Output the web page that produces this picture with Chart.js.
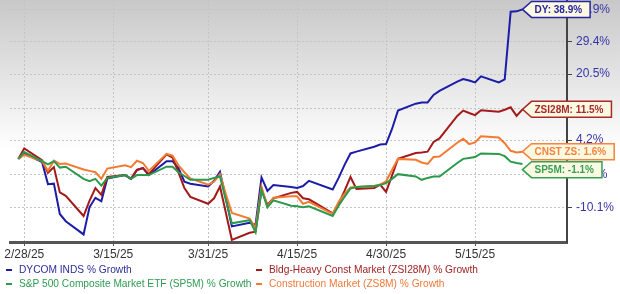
<!DOCTYPE html>
<html>
<head>
<meta charset="utf-8">
<script src="https://cdn.jsdelivr.net/npm/chart.js@4.4.1/dist/chart.umd.min.js"></script>
<style>
html,body{margin:0;padding:0;}
body{width:620px;height:294px;overflow:hidden;position:relative;
  background:linear-gradient(to bottom,#c8c8c8 0px,#ffffff 150px,#ffffff 294px);
  font-family:"Liberation Sans",Arial,sans-serif;}
#c{position:absolute;left:0;top:0;}
.lg{position:absolute;font-size:10.2px;line-height:13px;white-space:nowrap;}
.lg i{position:absolute;left:-13px;top:6px;width:6px;height:2px;}
</style>
</head>
<body>
<canvas id="c" width="620" height="294"></canvas>
<div id="legend"></div>
<script>
// ---- data ----
const dates = ['2025-02-27','2025-02-28','2025-03-03','2025-03-04','2025-03-05','2025-03-06','2025-03-07','2025-03-10','2025-03-11','2025-03-12','2025-03-13','2025-03-14','2025-03-17','2025-03-18','2025-03-19','2025-03-20','2025-03-21','2025-03-24','2025-03-25','2025-03-26','2025-03-27','2025-03-28','2025-03-31','2025-04-01','2025-04-02','2025-04-03','2025-04-04','2025-04-07','2025-04-08','2025-04-09','2025-04-10','2025-04-11','2025-04-14','2025-04-15','2025-04-16','2025-04-17','2025-04-21','2025-04-22','2025-04-23','2025-04-24','2025-04-25','2025-04-28','2025-04-29','2025-04-30','2025-05-01','2025-05-02','2025-05-05','2025-05-06','2025-05-07','2025-05-08','2025-05-09','2025-05-12','2025-05-13','2025-05-14','2025-05-15','2025-05-16','2025-05-19','2025-05-20','2025-05-21','2025-05-22','2025-05-23'];

const dyGrowth = [0,1.2,-0.7,-5.4,-5.3,-11.4,-12.8,-15.3,-10.1,-8.2,-8.9,-4.2,-3.5,-4.3,-2.4,-2.0,-3.5,-0.5,-0.5,-2.0,-4.9,-5.3,-5.9,-4.7,-2.8,-8.4,-13.8,-13.1,-13.5,-4.0,-6.8,-5.6,-6.0,-6.2,-5.8,-4.7,-6.5,-4.1,-1.3,1.2,1.6,2.7,3.2,3.3,6.8,11.2,12.9,13.2,13.2,15.1,16.1,18.5,19.2,18.8,18.3,19.9,18.3,19.1,38.2,38.3,38.9];

const zsi28mGrowth = [0,2.3,-0.3,-3.0,-1.8,-7.1,-7.8,-11.8,-8.8,-6.2,-7.6,-3.9,-3.5,-4.3,-2.4,-2.0,-3.3,1.0,0.3,-2.9,-6.2,-8.0,-9.4,-8.3,-5.9,-11.2,-16.3,-15.0,-14.8,-6.6,-9.6,-8.3,-7.2,-7.0,-8.3,-8.5,-11.3,-9.4,-6.8,-3.9,-6.4,-6.2,-5.5,-7.0,-3.6,0.0,1.3,1.4,1.6,3.8,4.6,9.9,11.2,10.6,10.1,11.3,10.9,11.4,12.0,9.9,11.5];

const sp5mGrowth = [0,1.5,-0.5,-1.2,-0.5,-1.9,-1.7,-4.3,-4.8,-4.3,-5.7,-4.1,-3.5,-4.3,-3.5,-3.5,-3.5,-1.7,-1.7,-2.9,-3.7,-4.5,-4.5,-4.1,-3.8,-8.7,-13.2,-12.6,-14.9,-6.6,-10.1,-8.7,-9.8,-9.9,-10.1,-9.9,-11.8,-9.8,-8.0,-6.3,-6.0,-5.8,-5.6,-5.2,-4.3,-3.3,-3.8,-4.5,-4.1,-3.8,-3.8,-0.9,0.0,0.2,0.4,1.2,1.1,0.6,-0.6,-0.9,-1.1];

const zs8mGrowth = [0,0.9,-0.5,-2.6,-0.4,-1.1,-1.0,-2.3,-2.6,-2.9,-4.3,-2.1,-1.4,-1.8,-0.4,-0.9,-2.6,1.1,0.7,-1.4,-2.9,-4.2,-5.5,-4.9,-3.3,-7.5,-11.2,-12.3,-14.1,-5.9,-10.0,-8.2,-7.9,-7.9,-9.4,-9.0,-11.4,-9.0,-7.4,-6.1,-6.0,-5.8,-5.5,-4.8,-2.4,0.0,-0.2,-0.8,-1.1,0.4,0.5,3.6,4.5,3.3,3.7,5.1,4.8,3.5,1.8,1.4,1.6];

const seriesNames = ['DYCOM INDS % Growth','Bldg-Heavy Const Market (ZSI28M) % Growth','S&P 500 Composite Market ETF (SP5M) % Growth','Construction Market (ZS8M) % Growth'];
const seriesTags = ['DY','ZSI28M','SP5M','CNST ZS'];
const xTickLabels = ['2/28/25','3/15/25','3/31/25','4/15/25','4/30/25','5/15/25'];
const yTickLabels = ['-10.1%','-3.4%','4.2%','11.8%','20.5%','29.4%','38.9%'];

// ---- helpers ----
const day0 = Date.UTC(2025,1,28);
const toDay = s => (Date.parse(s + 'T00:00:00Z') - day0) / 86400000;
const tickToDay = s => { const [m,d,y] = s.split('/').map(Number); return (Date.UTC(2000+y,m-1,d) - day0) / 86400000; };
const xTickDays = xTickLabels.map(tickToDay);
const yTickVals = yTickLabels.map(s => 100 + parseFloat(s));
const pts = arr => arr.map((v,i) => ({x: toDay(dates[i]), y: 100 + v}));

const colors = ['#1c1ca8','#a31a1a','#2b9a4b','#f47a32'];
const textColors = ['#2e2e9c','#a02424','#2f9a52','#f07a3a'];
const tagColors = ['#2626a0','#a82a2a','#35a055','#f5843e'];
const growths = [dyGrowth, zsi28mGrowth, sp5mGrowth, zs8mGrowth];
const drawOrder = [2,3,1,0];

// legend (HTML)
const lg = document.getElementById('legend');
const lgPos = [[19,263],[269,263],[19,277],[269,277]];
seriesNames.forEach((n,i) => {
  const d = document.createElement('div');
  d.className = 'lg';
  d.style.left = lgPos[i][0] + 'px';
  d.style.top = lgPos[i][1] + 'px';
  d.style.color = textColors[i];
  d.innerHTML = '<i style="background:' + colors[i] + '"></i>';
  d.appendChild(document.createTextNode(n));
  lg.appendChild(d);
});

// end tags plugin
const endTags = {
  id: 'endTags',
  afterDatasetsDraw(chart) {
    const ctx = chart.ctx;
    const h = 16;
    const items = [];
    chart.data.datasets.forEach((ds, di) => {
      const meta = chart.getDatasetMeta(di);
      const last = meta.data[meta.data.length - 1];
      const v = growths[ds.srcIndex][growths[ds.srcIndex].length - 1];
      const txt = seriesTags[ds.srcIndex] + ': ' + v.toFixed(1) + '%';
      items.push({x: last.x, y: last.y, cy: last.y, txt, c: tagColors[ds.srcIndex]});
    });
    items.sort((a,b) => a.y - b.y);
    for (let i = 1; i < items.length; i++) {
      if (items[i].cy < items[i-1].cy + h + 2) items[i].cy = items[i-1].cy + h + 2;
    }
    ctx.save();
    ctx.font = 'bold 10px "Liberation Sans", Arial, sans-serif';
    items.forEach(it => {
      const tw = ctx.measureText(it.txt).width;
      const t = 9;
      const w = t + 3 + tw + 8;
      const x = it.x, cy = Math.max(it.cy, h/2 + 1);
      ctx.beginPath();
      ctx.moveTo(x, cy);
      ctx.lineTo(x + t, cy - h/2);
      ctx.lineTo(x + w, cy - h/2);
      ctx.lineTo(x + w, cy + h/2);
      ctx.lineTo(x + t, cy + h/2);
      ctx.closePath();
      ctx.fillStyle = '#fcf9e2';
      ctx.fill();
      ctx.lineWidth = 1.5;
      ctx.strokeStyle = it.c;
      ctx.stroke();
      ctx.fillStyle = it.c;
      ctx.textBaseline = 'middle';
      ctx.textAlign = 'left';
      ctx.fillText(it.txt, x + t + 3, cy + 0.5);
    });
    ctx.restore();
  }
};

const datasets = drawOrder.map(i => ({
  label: seriesNames[i],
  srcIndex: i,
  data: pts(growths[i]),
  borderColor: colors[i],
  backgroundColor: colors[i],
  borderWidth: 2,
  pointRadius: 0,
  tension: 0,
  fill: false
}));

Chart.defaults.font.family = '"Liberation Sans", Arial, sans-serif';

new Chart(document.getElementById('c'), {
  type: 'line',
  data: { datasets },
  options: {
    responsive: false,
    animation: false,
    layout: { padding: { left: 10, top: 0, right: 0, bottom: 30 } },
    plugins: { legend: { display: false }, tooltip: { enabled: false } },
    scales: {
      x: {
        type: 'linear',
        min: -2.4, max: 91.5,
        afterBuildTicks: s => { s.ticks = xTickDays.map(v => ({ value: v })); },
        afterFit: s => { s.height = 22; },
        ticks: {
          autoSkip: false, maxRotation: 0, padding: 1,
          color: '#333333', font: { size: 12 },
          callback: (v) => { const k = xTickDays.indexOf(v); return k >= 0 ? xTickLabels[k] : ''; }
        },
        grid: { color: '#c4c4c4', tickColor: '#555555', tickLength: 4, tickBorderDash: [], lineWidth: 1 },
        border: { display: true, color: '#555555', width: 3, dash: [2, 2] }
      },
      y: {
        type: 'logarithmic',
        position: 'right',
        min: 83.3, max: 141.8,
        afterBuildTicks: s => { s.ticks = yTickVals.map(v => ({ value: v })); },
        afterFit: s => { s.width = 53; s.paddingTop = 0; s.paddingBottom = 0; },
        ticks: {
          padding: 4, color: '#3535a8', font: { size: 12 },
          callback: (v) => { const k = yTickVals.indexOf(v); return k >= 0 ? yTickLabels[k] : ''; }
        },
        grid: { color: '#c4c4c4', tickColor: '#444444', tickLength: 5, tickBorderDash: [], lineWidth: 1 },
        border: { display: true, color: '#444444', width: 2, dash: [2, 2] }
      }
    }
  },
  plugins: [endTags]
});
</script>
</body>
</html>
